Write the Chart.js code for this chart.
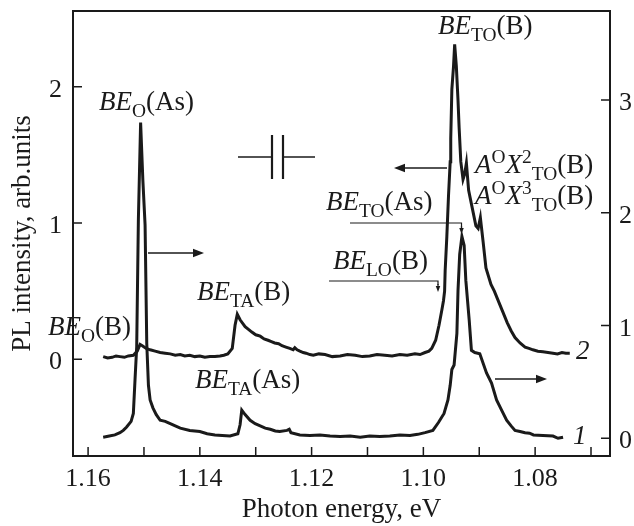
<!DOCTYPE html>
<html>
<head>
<meta charset="utf-8">
<script src="https://cdn.jsdelivr.net/npm/chart.js@4.4.1/dist/chart.umd.min.js"></script>
<style>
    body { margin: 0; background: #fff; }
    #wrap { width: 634px; height: 526px; position: relative; }
</style>
</head>
<body>
<div id="wrap"><canvas id="pl-chart"></canvas></div>
<script>
// curve 2 (upper spectrum, left axis)
const curve2Energy = [1.1573, 1.1565, 1.1557, 1.1550, 1.1543, 1.1535, 1.1528, 1.1519, 1.1512, 1.1507,
    1.1503, 1.1496, 1.1489, 1.1480, 1.1471, 1.1462, 1.1453, 1.1444, 1.1435, 1.1427,
    1.1418, 1.1409, 1.1400, 1.1391, 1.1382, 1.1373, 1.1364, 1.1357, 1.1350, 1.1342,
    1.1337, 1.1333, 1.1328, 1.1319, 1.1313, 1.1307, 1.1300, 1.1292, 1.1285, 1.1278,
    1.1272, 1.1266, 1.1259, 1.1253, 1.1246, 1.1239, 1.1233, 1.1230, 1.1226, 1.1221,
    1.1215, 1.1210, 1.1203, 1.1197, 1.1187, 1.1176, 1.1163, 1.1149, 1.1136, 1.1122,
    1.1109, 1.1096, 1.1083, 1.1069, 1.1056, 1.1042, 1.1029, 1.1015, 1.1006, 1.0997,
    1.0990, 1.0985, 1.0978, 1.0972, 1.0967, 1.0964, 1.0962, 1.0961, 1.0958, 1.0955,
    1.0952, 1.0951, 1.0949, 1.0946, 1.0944, 1.0941, 1.0938, 1.0936, 1.0933, 1.0929,
    1.0926, 1.0923, 1.0919, 1.0913, 1.0906, 1.0902, 1.0898, 1.0893, 1.0888, 1.0879,
    1.0873, 1.0867, 1.0858, 1.0850, 1.0843, 1.0836, 1.0827, 1.0818, 1.0811, 1.0804,
    1.0795, 1.0786, 1.0777, 1.0768, 1.0760, 1.0752, 1.0745, 1.0738];
const curve2Intensity = [0.02, 0.01, 0.015, 0.025, 0.02, 0.015, 0.025, 0.03, 0.06, 0.11,
    0.10, 0.08, 0.07, 0.06, 0.05, 0.045, 0.04, 0.03, 0.035, 0.025,
    0.03, 0.02, 0.025, 0.015, 0.02, 0.02, 0.025, 0.03, 0.04, 0.08,
    0.25, 0.33, 0.29, 0.24, 0.22, 0.20, 0.18, 0.17, 0.15, 0.14,
    0.13, 0.12, 0.115, 0.10, 0.09, 0.08, 0.07, 0.085, 0.07, 0.06,
    0.05, 0.045, 0.035, 0.03, 0.04, 0.035, 0.02, 0.025, 0.035, 0.03,
    0.02, 0.025, 0.035, 0.03, 0.025, 0.035, 0.03, 0.04, 0.035, 0.05,
    0.06, 0.08, 0.14, 0.25, 0.36, 0.43, 0.50, 0.65, 0.90, 1.20,
    1.45, 1.62, 1.98, 2.15, 2.31, 2.15, 1.90, 1.70, 1.45, 1.32,
    1.36, 1.44, 1.24, 1.12, 0.98, 0.96, 1.04, 0.86, 0.67, 0.55,
    0.50, 0.44, 0.35, 0.27, 0.21, 0.16, 0.12, 0.09, 0.08, 0.07,
    0.06, 0.055, 0.05, 0.045, 0.04, 0.05, 0.045, 0.045];

// curve 1 (lower spectrum, right axis)
const curve1Energy = [1.1573, 1.1562, 1.1552, 1.1543, 1.1537, 1.1531, 1.1523, 1.1519, 1.1516, 1.1513,
    1.1510, 1.1506, 1.1502, 1.1498, 1.1495, 1.1492, 1.1489, 1.1484, 1.1478, 1.1471,
    1.1462, 1.1453, 1.1444, 1.1435, 1.1418, 1.1400, 1.1387, 1.1373, 1.1360, 1.1346,
    1.1332, 1.1328, 1.1325, 1.1319, 1.1310, 1.1301, 1.1292, 1.1283, 1.1274, 1.1265,
    1.1257, 1.1244, 1.1240, 1.1237, 1.1221, 1.1203, 1.1185, 1.1167, 1.1149, 1.1131,
    1.1113, 1.1096, 1.1078, 1.1060, 1.1042, 1.1024, 1.1010, 1.0997, 1.0983, 1.0973,
    1.0963, 1.0956, 1.0952, 1.0949, 1.0945, 1.0940, 1.0938, 1.0935, 1.0931, 1.0927,
    1.0924, 1.0918, 1.0914, 1.0908, 1.0899, 1.0887, 1.0878, 1.0869, 1.0860, 1.0851,
    1.0843, 1.0836, 1.0827, 1.0818, 1.0810, 1.0803, 1.0786, 1.0768, 1.0759, 1.0750];
const curve1Intensity = [0.01, 0.02, 0.03, 0.05, 0.07, 0.10, 0.15, 0.22, 0.52, 0.81,
    1.94, 2.80, 2.29, 1.89, 0.84, 0.47, 0.34, 0.27, 0.21, 0.16,
    0.15, 0.13, 0.11, 0.09, 0.07, 0.06, 0.04, 0.03, 0.025, 0.02,
    0.04, 0.12, 0.25, 0.21, 0.16, 0.13, 0.11, 0.09, 0.08, 0.065,
    0.06, 0.07, 0.08, 0.05, 0.03, 0.025, 0.03, 0.02, 0.015, 0.02,
    0.01, 0.02, 0.015, 0.02, 0.03, 0.025, 0.035, 0.05, 0.07, 0.14,
    0.22, 0.34, 0.47, 0.61, 0.65, 0.93, 1.31, 1.63, 1.79, 1.71,
    1.40, 1.05, 0.78, 0.76, 0.75, 0.58, 0.49, 0.34, 0.25, 0.16,
    0.11, 0.07, 0.06, 0.05, 0.045, 0.03, 0.025, 0.02, 0.0, 0.01];

const xTicks = [1.16, 1.15, 1.14, 1.13, 1.12, 1.11, 1.10, 1.09, 1.08, 1.07];
const xTickLabels = ['1.16', '', '1.14', '', '1.12', '', '1.10', '', '1.08', ''];
const leftTicks = [0, 1, 2];
const rightTicks = [0, 1, 2, 3];

const serif = "'Liberation Serif', 'DejaVu Serif', serif";
const ink = '#1a1a1a';

Chart.defaults.font.family = serif;
Chart.defaults.color = ink;

function toPoints(xs, ys) {
    return xs.map((x, i) => ({ x: x, y: ys[i] }));
}

// draws text built from parts: i = italic, r = roman, sub / sup = small roman shifted
function drawRich(ctx, x, y, parts, size) {
    ctx.save();
    ctx.textBaseline = 'alphabetic';
    ctx.textAlign = 'left';
    ctx.fillStyle = ink;
    let cx = x;
    parts.forEach(p => {
        const [text, kind] = p;
        let fs = size, dy = 0, style = '';
        if (kind === 'i') style = 'italic ';
        if (kind === 'sub') { fs = size * 0.72; dy = size * 0.27; }
        if (kind === 'sup') { fs = size * 0.72; dy = -size * 0.38; }
        ctx.font = style + fs + 'px ' + serif;
        ctx.fillText(text, cx, y + dy);
        cx += ctx.measureText(text).width;
    });
    ctx.restore();
}

function arrow(ctx, x1, y1, x2, y2, head, lw) {
    const a = Math.atan2(y2 - y1, x2 - x1);
    ctx.save();
    ctx.strokeStyle = ink;
    ctx.fillStyle = ink;
    ctx.lineWidth = lw;
    ctx.beginPath();
    ctx.moveTo(x1, y1);
    ctx.lineTo(x2 - Math.cos(a) * head * 0.8, y2 - Math.sin(a) * head * 0.8);
    ctx.stroke();
    ctx.beginPath();
    ctx.moveTo(x2, y2);
    ctx.lineTo(x2 - head * Math.cos(a) + head * 0.38 * Math.sin(a), y2 - head * Math.sin(a) - head * 0.38 * Math.cos(a));
    ctx.lineTo(x2 - head * Math.cos(a) - head * 0.38 * Math.sin(a), y2 - head * Math.sin(a) + head * 0.38 * Math.cos(a));
    ctx.closePath();
    ctx.fill();
    ctx.restore();
}

function line(ctx, pts, lw) {
    ctx.save();
    ctx.strokeStyle = ink;
    ctx.lineWidth = lw;
    ctx.beginPath();
    ctx.moveTo(pts[0][0], pts[0][1]);
    for (let k = 1; k < pts.length; k++) ctx.lineTo(pts[k][0], pts[k][1]);
    ctx.stroke();
    ctx.restore();
}

function noEdgePadding(s) {
    s.paddingTop = 0;
    s.paddingBottom = 0;
    s.paddingLeft = 0;
    s.paddingRight = 0;
}

const framePlugin = {
    id: 'frame',
    afterDraw(chart) {
        const ctx = chart.ctx;
        const ca = chart.chartArea;
        const xs = chart.scales.x, yl = chart.scales.y, yr = chart.scales.y1;
        const tick = 9;

        ctx.save();
        ctx.strokeStyle = ink;
        ctx.lineWidth = 2;
        ctx.strokeRect(ca.left, ca.top, ca.right - ca.left, ca.bottom - ca.top);
        ctx.lineWidth = 1.5;
        ctx.beginPath();
        xTicks.forEach(v => {
            const px = xs.getPixelForValue(v);
            ctx.moveTo(px, ca.bottom);
            ctx.lineTo(px, ca.bottom - tick);
        });
        leftTicks.forEach(v => {
            const py = yl.getPixelForValue(v);
            ctx.moveTo(ca.left, py);
            ctx.lineTo(ca.left + tick, py);
        });
        rightTicks.forEach(v => {
            const py = yr.getPixelForValue(v);
            ctx.moveTo(ca.right, py);
            ctx.lineTo(ca.right - tick, py);
        });
        ctx.stroke();

        // tick labels
        ctx.fillStyle = ink;
        ctx.font = '26px ' + serif;
        ctx.textBaseline = 'alphabetic';
        ctx.textAlign = 'center';
        xTicks.forEach((v, i) => {
            if (xTickLabels[i]) ctx.fillText(xTickLabels[i], xs.getPixelForValue(v), ca.bottom + 30);
        });
        ctx.textAlign = 'right';
        leftTicks.forEach(v => ctx.fillText(String(v), ca.left - 11, yl.getPixelForValue(v) + 10));
        ctx.textAlign = 'left';
        rightTicks.forEach(v => ctx.fillText(String(v), ca.right + 9, yr.getPixelForValue(v) + 10));
        ctx.restore();

        const fs = 27;
        drawRich(ctx, 99, 110, [['BE', 'i'], ['O', 'sub'], ['(As)', 'r']], fs);
        drawRich(ctx, 438, 34, [['BE', 'i'], ['TO', 'sub'], ['(B)', 'r']], fs);
        drawRich(ctx, 475, 173, [['A', 'i'], ['O', 'sup'], ['X', 'i'], ['2', 'sup'], ['TO', 'sub'], ['(B)', 'r']], fs);
        drawRich(ctx, 475, 204, [['A', 'i'], ['O', 'sup'], ['X', 'i'], ['3', 'sup'], ['TO', 'sub'], ['(B)', 'r']], fs);
        drawRich(ctx, 326, 210, [['BE', 'i'], ['TO', 'sub'], ['(As)', 'r']], fs);
        drawRich(ctx, 333, 269, [['BE', 'i'], ['LO', 'sub'], ['(B)', 'r']], fs);
        drawRich(ctx, 197, 300, [['BE', 'i'], ['TA', 'sub'], ['(B)', 'r']], fs);
        drawRich(ctx, 195, 388, [['BE', 'i'], ['TA', 'sub'], ['(As)', 'r']], fs);
        drawRich(ctx, 48, 335, [['BE', 'i'], ['O', 'sub'], ['(B)', 'r']], fs);
        drawRich(ctx, 576, 359, [['2', 'i']], fs);
        drawRich(ctx, 573, 444, [['1', 'i']], fs);

        // axis arrows
        arrow(ctx, 148, 253, 204, 253, 11, 1.5);
        arrow(ctx, 447, 168, 394, 168, 11, 1.5);
        arrow(ctx, 495, 379, 547, 379, 11, 1.5);

        // pointer lines
        line(ctx, [[350, 223], [461.5, 223], [461.5, 228]], 1.2);
        arrow(ctx, 461.5, 226, 461.5, 234, 6, 1.2);
        line(ctx, [[329, 281], [438, 281], [438, 285]], 1.2);
        arrow(ctx, 438, 284, 438, 292, 6, 1.2);

        // capacitor mark
        line(ctx, [[238, 157], [272, 157]], 1.5);
        line(ctx, [[283, 157], [315, 157]], 1.5);
        line(ctx, [[272, 135], [272, 179]], 2.2);
        line(ctx, [[283, 135], [283, 179]], 2.2);
    }
};

new Chart(document.getElementById('pl-chart'), {
    type: 'line',
    data: {
        datasets: [{
            label: '2',
            data: toPoints(curve2Energy, curve2Intensity),
            yAxisID: 'y',
            borderColor: ink,
            borderWidth: 3,
            pointRadius: 0,
            tension: 0,
            fill: false
        }, {
            label: '1',
            data: toPoints(curve1Energy, curve1Intensity),
            yAxisID: 'y1',
            borderColor: ink,
            borderWidth: 3,
            pointRadius: 0,
            tension: 0,
            fill: false
        }]
    },
    options: {
        responsive: true,
        maintainAspectRatio: false,
        animation: false,
        layout: { padding: { top: 11, left: 0, right: 0, bottom: 0 } },
        plugins: { legend: { display: false }, tooltip: { enabled: false } },
        scales: {
            x: {
                type: 'linear',
                reverse: true,
                min: 1.0666,
                max: 1.1627,
                grid: { display: false, drawTicks: false },
                border: { display: false },
                afterBuildTicks: s => { s.ticks = xTicks.map(v => ({ value: v })); },
                afterFit: s => { s.height = 70; noEdgePadding(s); },
                ticks: { display: false },
                title: {
                    display: true,
                    text: 'Photon energy, eV',
                    color: ink,
                    font: { family: serif, size: 27 },
                    padding: { top: 0, bottom: 0 }
                }
            },
            y: {
                position: 'left',
                min: -0.709,
                max: 2.555,
                grid: { display: false, drawTicks: false },
                border: { display: false },
                afterBuildTicks: s => { s.ticks = leftTicks.map(v => ({ value: v })); },
                afterFit: s => { s.width = 73; noEdgePadding(s); },
                ticks: { display: false },
                title: {
                    display: true,
                    text: 'PL intensity, arb.units',
                    color: ink,
                    font: { family: serif, size: 27 },
                    padding: { top: 7, bottom: 0 }
                }
            },
            y1: {
                position: 'right',
                min: -0.157,
                max: 3.789,
                grid: { display: false, drawTicks: false },
                border: { display: false },
                afterBuildTicks: s => { s.ticks = rightTicks.map(v => ({ value: v })); },
                afterFit: s => { s.width = 24; noEdgePadding(s); },
                ticks: { display: false }
            }
        }
    },
    plugins: [framePlugin]
});
</script>
</body>
</html>
